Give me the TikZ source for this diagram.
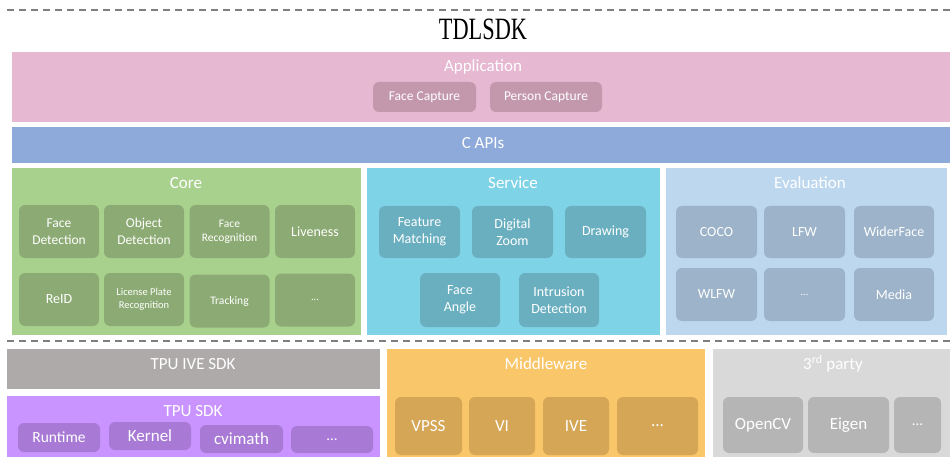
\documentclass[tikz,border=0pt]{standalone}
\usepackage{fontspec}
\setmainfont{Carlito}
\newfontfamily\titlefont{Liberation Serif}
\usepackage{graphicx}
\definecolor{appbg}{HTML}{E6B8D1}
\definecolor{appin}{HTML}{C398AD}
\definecolor{apibg}{HTML}{8EAADB}
\definecolor{corebg}{HTML}{A9D18E}
\definecolor{corein}{HTML}{8CAB74}
\definecolor{svcbg}{HTML}{7FD3E6}
\definecolor{svcin}{HTML}{6AAFC0}
\definecolor{evalbg}{HTML}{BDD7EE}
\definecolor{evalin}{HTML}{9DB3C9}
\definecolor{ivebg}{HTML}{AEAAAA}
\definecolor{tpubg}{HTML}{C994FF}
\definecolor{tpuin}{HTML}{A87AD6}
\definecolor{mwbg}{HTML}{FAC66A}
\definecolor{mwin}{HTML}{D5A655}
\definecolor{tpbg}{HTML}{D9D9D9}
\definecolor{tpin}{HTML}{B5B5B5}
\definecolor{dashgray}{HTML}{7F7F7F}
\tikzset{
  sz/.style 2 args={minimum width=#1, minimum height=#2},
  panel/.style={fill=#1, inner sep=0pt, outer sep=0pt},
  item/.style={fill=#1, rounded corners=6pt, inner sep=0pt, outer sep=0pt, text=white, align=center},
  lbl/.style={text=white, inner sep=0pt, font=\fontsize{17}{20}\selectfont},
  sepline/.style={draw=dashgray, dash pattern=on 7pt off 5pt, line width=1.3pt},
  fa/.style={font=\fontsize{13.5}{16.5}\selectfont},
  fb/.style={font=\fontsize{11.5}{14}\selectfont},
  fc/.style={font=\fontsize{10.5}{13}\selectfont},
  fd/.style={font=\fontsize{14}{17}\selectfont},
  fe/.style={font=\fontsize{17}{20}\selectfont},
}
\begin{document}
\begin{tikzpicture}[x=1pt,y=-1pt]
\useasboundingbox (0,0) rectangle (950,457);
% top dashed line and title
\coordinate (t1) at (7,10); \coordinate (t2) at (950,10);
\draw[sepline] (t1) -- (t2);
\node[inner sep=0pt] (title) at (483,29) {\scalebox{0.72}[1]{\titlefont\fontsize{31}{34}\selectfont TDLSDK}};
% Application
\node[panel=appbg, sz={938}{70}] (app) at (481,87) {};
\node[lbl] (applbl) at (483,67) {Application};
\node[item=appin, sz={103}{30}, fa] (fcap) at (424.5,97) {Face Capture};
\node[item=appin, sz={112}{30}, fa] (pcap) at (546,97) {Person Capture};
% C APIs
\node[panel=apibg, sz={938}{36}] (capi) at (481,145) {};
\node[lbl] (capilbl) at (483,143) {C APIs};
% Core
\node[panel=corebg, sz={349}{167}] (core) at (186.5,251.5) {};
\node[lbl] (corelbl) at (186,183) {Core};
\node[item=corein, sz={80}{53}, fa] (c1) at (59,231.5) {Face\\Detection};
\node[item=corein, sz={80}{53}, fa] (c2) at (144,231.5) {Object\\Detection};
\node[item=corein, sz={80}{53}, fb] (c3) at (229.5,231.5) {Face\\Recognition};
\node[item=corein, sz={80}{53}, fd] (c4) at (315,231.5) {Liveness};
\node[item=corein, sz={80}{53}, fd] (c5) at (59,299.5) {ReID};
\node[item=corein, sz={80}{53}, fc] (c6) at (144,299.5) {License Plate\\Recognition};
\node[item=corein, sz={80}{53}, fb] (c7) at (229.5,301) {Tracking};
\node[item=corein, sz={80}{53}, fc] (c8) at (315,300) {...};
% Service
\node[panel=svcbg, sz={293}{167}] (svc) at (513.5,251.5) {};
\node[lbl] (svclbl) at (513,183) {Service};
\node[item=svcin, sz={81}{52}, fd] (s1) at (419.5,232) {Feature\\Matching};
\node[item=svcin, sz={81}{52}, fd] (s2) at (512.5,232) {Digital\\Zoom};
\node[item=svcin, sz={81}{52}, fd] (s3) at (605.5,232) {Drawing};
\node[item=svcin, sz={80}{54}, fd] (s4) at (460,300) {Face\\Angle};
\node[item=svcin, sz={80}{54}, fd] (s5) at (559,300) {Intrusion\\Detection};
% Evaluation
\node[panel=evalbg, sz={281}{167}] (eval) at (806.5,251.5) {};
\node[lbl] (evallbl) at (810,183) {Evaluation};
\node[item=evalin, sz={81}{52}, fd] (e1) at (716.5,232) {COCO};
\node[item=evalin, sz={81}{52}, fd] (e2) at (804.5,232) {LFW};
\node[item=evalin, sz={80}{52}, fd] (e3) at (894,232) {WiderFace};
\node[item=evalin, sz={81}{53}, fd] (e4) at (716.5,294.5) {WLFW};
\node[item=evalin, sz={81}{53}, fc] (e5) at (804.5,294.5) {...};
\node[item=evalin, sz={80}{53}, fd] (e6) at (894,294.5) {Media};
% middle dashed line
\coordinate (m1) at (7,341); \coordinate (m2) at (950,341);
\draw[sepline] (m1) -- (m2);
% TPU IVE SDK
\node[panel=ivebg, sz={373}{40}] (ive) at (193.5,369) {};
\node[lbl] (ivelbl) at (193,364) {TPU IVE SDK};
% TPU SDK
\node[panel=tpubg, sz={373}{61}] (tpu) at (193.5,426.5) {};
\node[lbl] (tpulbl) at (193,411) {TPU SDK};
\node[item=tpuin, sz={82}{29}, font=\fontsize{15.5}{18}\selectfont] (p1) at (59,437.5) {Runtime};
\node[item=tpuin, sz={82}{28}, fe] (p2) at (150,436) {Kernel};
\node[item=tpuin, sz={83}{28}, fe] (p3) at (241.5,439) {cvimath};
\node[item=tpuin, sz={82}{27}, font=\fontsize{15}{18}\selectfont] (p4) at (332,439.5) {...};
% Middleware
\node[panel=mwbg, sz={318}{108}] (mw) at (546,403) {};
\node[lbl] (mwlbl) at (546,364) {Middleware};
\node[item=mwin, sz={67}{58}, fe] (w1) at (428.5,426) {VPSS};
\node[item=mwin, sz={66}{58}, fe] (w2) at (502,426) {VI};
\node[item=mwin, sz={66}{58}, fe] (w3) at (576,426) {IVE};
\node[item=mwin, sz={81}{58}, fe] (w4) at (657.5,426) {...};
% 3rd party
\node[panel=tpbg, sz={237}{108}] (tp) at (831.5,403) {};
\node[lbl] (tplbl) at (833,364) {3\textsuperscript{rd} party};
\node[item=tpin, sz={80}{56}, fe] (o1) at (763,425) {OpenCV};
\node[item=tpin, sz={81}{56}, fe] (o2) at (848.5,425) {Eigen};
\node[item=tpin, sz={47}{56}, font=\fontsize{15}{18}\selectfont] (o3) at (917.5,425) {...};
\end{tikzpicture}
\end{document}
